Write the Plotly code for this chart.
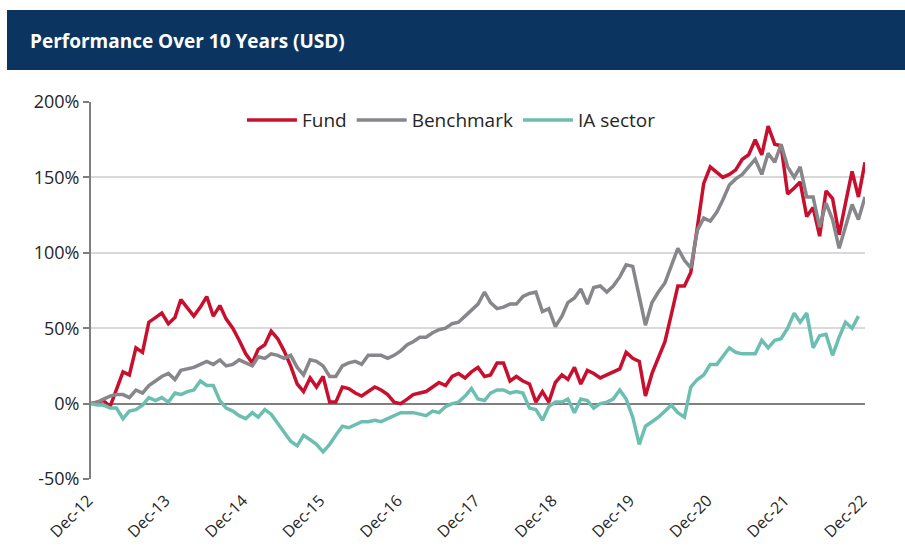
import plotly.graph_objects as go
import pandas as pd

months = pd.date_range("2012-12-31", periods=121, freq="ME")
tick_labels = ["Dec-12", "Dec-13", "Dec-14", "Dec-15", "Dec-16", "Dec-17",
               "Dec-18", "Dec-19", "Dec-20", "Dec-21", "Dec-22"]
tick_dates = [months[i] for i in range(0, 121, 12)]

fund = [0, 1, 2, -2, 10, 21, 19, 37, 34, 54, 57, 60, 53, 57, 69, 63, 58, 64, 71, 58, 65, 56, 50, 42, 33,
        27, 36, 39, 48, 43, 35, 25, 13, 8, 17, 11, 18,
        1, 1, 11, 10, 7, 5, 8, 11, 9, 6, 1, 0,
        3, 6, 7, 8, 11, 14, 12, 18, 20, 17, 21, 24, 18, 19, 27, 27, 15, 18, 15, 13,
        1, 8, 1, 14, 19, 16, 24, 13, 22, 20, 17, 19, 21, 23, 34, 30, 28,
        5, 20, 30, 41, 59, 78, 78, 87, 117, 146, 157, 153, 150, 152, 155, 162, 165, 175, 165, 184,
        172, 171, 139, 143, 147, 124, 130, 111, 141, 136, 112, 133, 154, 137, 160]

benchmark = [0, 1, 3, 5, 6, 6, 4, 9, 7, 12, 15, 18, 20, 16, 22, 23, 24, 26, 28, 26, 29, 25, 26, 29, 27,
             25, 31, 30, 33, 32, 30, 32, 24, 19, 29, 28, 25, 18, 18, 25, 27, 28, 26, 32, 32, 32, 30, 32, 35, 39,
             41, 44, 44, 47, 49, 50, 53, 54, 58, 62, 66, 74, 67, 63, 64, 66, 66, 71, 73, 74,
             61, 63, 51, 58, 67, 70, 76, 66, 77, 78, 74, 78, 84, 92, 91, 71, 52, 67, 74, 80,
             91, 103, 95, 90, 115, 123, 121, 127, 135, 145, 149, 152, 157, 162, 152, 166, 160, 172, 157, 150,
             157, 137, 137, 117, 133, 122, 103, 117, 132, 122, 137]

ia_sector = [0, -1, -1, -3, -3, -10, -5, -4, -1, 4, 2, 4, 1, 7, 6, 8, 9, 15, 12, 12, 2, -3, -5, -8, -10,
             -6, -9, -4, -7, -13, -19, -25, -28, -21, -24, -27, -32, -27, -21, -15, -16, -14, -12, -12, -11,
             -12, -10, -8, -6, -6,
             -6, -7, -8, -5, -6, -2, 0, 1, 5, 10, 3, 2, 7, 9, 9, 7, 8, 7, -3, -4,
             -11, -2, 1, 1, 3, -6, 3, 2, -3, 0, 1, 3, 9, 3, -9, -27, -15, -12, -9, -5,
             -1, -6, -9, 11, 16, 19, 26, 26, 31, 37, 34, 33, 33, 33, 42, 37, 42, 43, 50, 60,
             54, 60, 37, 45, 46, 32, 44, 54, 50, 58, None]

series = [("Fund", fund, "#c8102e"),
          ("Benchmark", benchmark, "#87878b"),
          ("IA sector", ia_sector, "#6cbfb0")]

FONT = "Open Sans"

fig = go.Figure()
for name, vals, col in series:
    fig.add_trace(go.Scatter(x=months, y=vals, name=name, mode="lines",
                             line=dict(color=col, width=3.5)))

fig.update_layout(
    width=905, height=547,
    margin=dict(l=91, r=40, t=102, b=68),
    paper_bgcolor="white", plot_bgcolor="white",
    font=dict(family=FONT, color="#262626", size=18),
    showlegend=True,
    legend=dict(orientation="h", x=0.195, y=0.952, xanchor="left", yanchor="middle",
                font=dict(size=19, color="#262626"), itemwidth=50,
                bgcolor="rgba(0,0,0,0)", tracegroupgap=0),
    shapes=[dict(type="rect", xref="paper", yref="paper",
                 x0=(7 - 91) / 774, x1=(905 - 91) / 774,
                 y0=(479 - 70) / 377, y1=(479 - 10) / 377,
                 fillcolor="#0b3560", line=dict(width=0), layer="below")],
    annotations=[dict(text="<b>Performance Over 10 Years (USD)</b>", xref="paper", yref="paper",
                      x=(28 - 91) / 774, y=(479 - 41) / 377, xanchor="left", yanchor="middle",
                      showarrow=False, font=dict(family=FONT, size=19, color="white"))],
)

fig.update_yaxes(range=[-50, 200], tickvals=[-50, 0, 50, 100, 150, 200],
                 ticktext=["-50%", "0%", "50%", "100%", "150%", "200%"],
                 showgrid=True, gridcolor="#d9d9d9", gridwidth=2,
                 zeroline=True, zerolinecolor="#7f7f7f", zerolinewidth=2,
                 showline=True, linecolor="#7f7f7f", linewidth=2,
                 ticks="outside", ticklen=6, tickcolor="#7f7f7f", tickwidth=2,
                 tickfont=dict(size=18, color="#262626"), fixedrange=True, automargin=False)

fig.update_xaxes(range=[months[0], months[-1]], tickvals=tick_dates, ticktext=tick_labels,
                 tickangle=-45, showgrid=False, zeroline=False, showline=False,
                 ticks="outside", ticklen=5, tickcolor="rgba(0,0,0,0)",
                 ticklabelshift=-3,
                 tickfont=dict(size=16, color="#262626"), fixedrange=True, automargin=False)

fig.write_html("out.html", config={"displayModeBar": False},
               post_script="document.body.style.margin='0';document.body.style.overflow='hidden';")
